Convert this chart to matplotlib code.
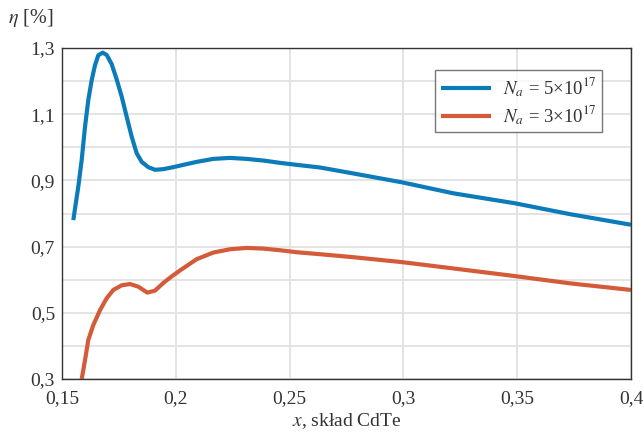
import matplotlib
matplotlib.use("Agg")
import matplotlib.pyplot as plt
from matplotlib.ticker import FixedLocator

plt.rcParams['font.family'] = ['Liberation Serif', 'DejaVu Serif']
plt.rcParams['mathtext.fontset'] = 'stix'

# Data
x_blue = [0.15496, 0.15716, 0.15866, 0.16011, 0.16156, 0.16305, 0.16450, 0.16595,
          0.16788, 0.16964, 0.17184, 0.17403, 0.17623, 0.17843, 0.18062, 0.18282,
          0.18502, 0.18792, 0.19086, 0.19451, 0.19890, 0.20330, 0.20918, 0.21648,
          0.22381, 0.23115, 0.23844, 0.24578, 0.25312, 0.26336, 0.27800, 0.29951,
          0.32193, 0.34890, 0.37320, 0.40000]
y_blue = [0.780, 0.881, 0.962, 1.062, 1.143, 1.203, 1.248, 1.278,
          1.286, 1.279, 1.251, 1.205, 1.153, 1.092, 1.032, 0.982,
          0.956, 0.940, 0.932, 0.934, 0.940, 0.947, 0.956, 0.965,
          0.968, 0.965, 0.960, 0.953, 0.947, 0.939, 0.921, 0.894,
          0.861, 0.831, 0.798, 0.766]

x_red = [0.15866, 0.16011, 0.16156, 0.16375, 0.16670, 0.16964, 0.17254, 0.17623,
         0.17988, 0.18352, 0.18748, 0.19086, 0.19451, 0.19820, 0.20185, 0.20918,
         0.21648, 0.22381, 0.23115, 0.23844, 0.24578, 0.25312, 0.26336, 0.27800,
         0.29951, 0.32193, 0.34890, 0.37320, 0.40000]
y_red = [0.300, 0.357, 0.418, 0.463, 0.508, 0.544, 0.569, 0.583,
         0.587, 0.579, 0.561, 0.567, 0.590, 0.610, 0.628, 0.662,
         0.682, 0.692, 0.696, 0.694, 0.689, 0.683, 0.677, 0.668,
         0.653, 0.634, 0.611, 0.589, 0.569]

x_ticks = [0.15, 0.2, 0.25, 0.3, 0.35, 0.4]
x_tick_labels = ['0,15', '0,2', '0,25', '0,3', '0,35', '0,4']
y_ticks = [0.3, 0.5, 0.7, 0.9, 1.1, 1.3]
y_tick_labels = ['0,3', '0,5', '0,7', '0,9', '1,1', '1,3']
y_minor = [0.4, 0.6, 0.8, 1.0, 1.2]

label_blue = r'$N_a$ = 5×10$^{17}$'
label_red = r'$N_a$ = 3×10$^{17}$'

fig = plt.figure(figsize=(6.43, 4.33), dpi=100)
ax = fig.add_axes([62/643, 1 - 379/433, (631-62)/643, (379-48)/433])

ax.plot(x_blue, y_blue, color='#0C7BBA', lw=3.0, label=label_blue,
        solid_capstyle='butt', solid_joinstyle='round')
ax.plot(x_red, y_red, color='#D45B3A', lw=3.0, label=label_red,
        solid_capstyle='butt', solid_joinstyle='round')

ax.set_xlim(0.15, 0.4)
ax.set_ylim(0.3, 1.3)
ax.set_xticks(x_ticks)
ax.set_xticklabels(x_tick_labels)
ax.set_yticks(y_ticks)
ax.set_yticklabels(y_tick_labels)
ax.yaxis.set_minor_locator(FixedLocator(y_minor))
ax.grid(True, which='both', color='#e2e2e2', lw=1.3)
ax.set_axisbelow(True)
ax.tick_params(which='both', length=0, labelsize=14, colors='#333333')
ax.tick_params(axis='x', pad=8)
ax.tick_params(axis='y', pad=5)
for s in ax.spines.values():
    s.set_color('#333333')
    s.set_linewidth(1.0)

ax.set_xlabel(r'$x$, skład CdTe', fontsize=14, color='#333333', labelpad=3)
fig.text(8/643, 1 - 18/433, r'$\eta$ [%]', fontsize=14.5, color='#333333',
         va='center', ha='left')

leg = ax.legend(loc='upper right', bbox_to_anchor=(0.949, 0.9335), fontsize=13.5,
                frameon=True, fancybox=False, edgecolor='#555555', handlelength=2.7,
                borderpad=0.3, labelspacing=0.2, handletextpad=0.6, borderaxespad=0)
leg.get_frame().set_linewidth(1.0)
for t in leg.get_texts():
    t.set_color('#333333')

fig.savefig('out.png', dpi=100)
